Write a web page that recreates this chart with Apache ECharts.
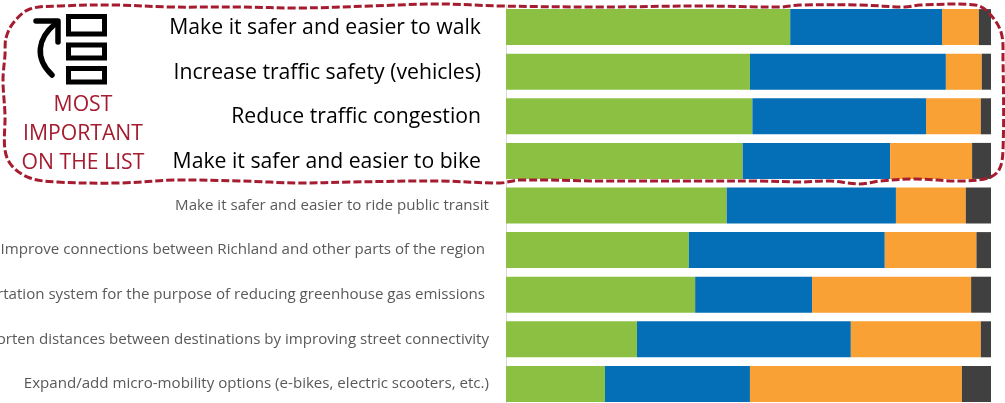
<!DOCTYPE html>
<html><head><meta charset="utf-8">
<style>html,body{margin:0;padding:0;background:#fff}#c{width:1005px;height:403px}</style>
<script src="https://cdn.jsdelivr.net/npm/echarts@6/dist/echarts.min.js"></script>
</head><body><div id="c"></div>
<script>
const categories = [
  "Make it safer and easier to walk",
  "Increase traffic safety (vehicles)",
  "Reduce traffic congestion",
  "Make it safer and easier to bike",
  "Make it safer and easier to ride public transit",
  "Improve connections between Richland and other parts of the region",
  "rtation system for the purpose of reducing greenhouse gas emissions",
  "orten distances between destinations by improving street connectivity",
  "Expand/add micro-mobility options (e-bikes, electric scooters, etc.)"
];
const green  = [58.6, 50.3, 50.8, 48.8, 45.5, 37.7, 39.0, 27.0, 20.4];
const blue   = [31.3, 40.4, 35.8, 30.4, 34.9, 40.4, 24.1, 44.1, 29.9];
const orange = [7.6, 7.4, 11.3, 16.9, 14.4, 18.9, 32.8, 26.8, 43.7];
const dark   = [2.5, 1.9, 2.1, 3.9, 5.2, 3.0, 4.1, 2.1, 6.0];
const seriesColors = ["#8cc043", "#046eb6", "#f9a134", "#404040"];
const noteLines = ["MOST", "IMPORTANT", "ON THE LIST"];

const outline = [[6,38],[14,22],[30,9],[60,6],[115,5],[170,7],[240,7],[300,8],[370,6],[440,4],[500,6],[600,7],[700,6],[780,7],[800,5],[860,5],[905,7],[920,5],[975,5],[988,12],[1001,32],[1003,60],[1003,150],[999,170],[988,178],[960,181],[915,179],[880,181],[860,184],[830,181],[800,182],[760,181],[700,181],[600,181],[520,180],[500,183],[440,181],[350,182],[300,183],[240,181],[175,180],[120,183],[57,182],[30,178],[12,166],[5,150],[5,115],[3,80],[5,55]];
const red = "#a51c30";
const box = (x,y,w,h)=>({type:'rect',z:20,shape:{x,y,width:w,height:h},style:{fill:'none',stroke:'#000',lineWidth:5}});

const chart = echarts.init(document.getElementById('c'), null, {renderer:'canvas'});
chart.setOption({
  animation:false,
  grid:{left:506,top:4.8,width:485,height:401.4,containLabel:false,outerBoundsMode:'none'},
  xAxis:{type:'value',min:0,max:100,show:false},
  yAxis:{type:'category',inverse:true,data:categories,
    axisTick:{show:false},axisLine:{show:true,lineStyle:{color:'#d9d9d9',width:1}},
    axisLabel:{margin:0,align:'right',interval:0,
      formatter:(v,i)=>{
        const k = i<4 ? 'a' : (i===5||i===6 ? 'c' : 'b');
        return '{'+k+'|'+v+'}';
      },
      rich:{
        a:{fontFamily:'Open Sans',fontSize:21.2,color:'#000',padding:[2,25,0,0]},
        b:{fontFamily:'Open Sans',fontSize:15.1,color:'#595959',padding:[0,17,0,0]},
        c:{fontFamily:'Open Sans',fontSize:15.1,color:'#595959',padding:[0,21,0,0]}
      }}},
  series:[green,blue,orange,dark].map((d,i)=>({type:'bar',stack:'s',data:d,barWidth:36,
    itemStyle:{color:seriesColors[i]},silent:true})),
  graphic:[
    {type:'polygon',z:30,shape:{points:outline,smooth:0.35},
     style:{fill:'none',stroke:red,lineWidth:3,lineDash:[8,3]}},
    box(68.5,16.5,36,17.5),box(68.5,45,36,13),box(68.5,68.5,36,13.5),
    {type:'polyline',z:20,shape:{points:[[36,21],[58,21],[58,42]]},style:{fill:'none',stroke:'#000',lineWidth:5.5,lineCap:'round',lineJoin:'round'}},
    {type:'bezierCurve',z:20,shape:{x1:55,y1:24,cpx1:38,cpy1:38,cpx2:34,cpy2:58,x2:52,y2:75},style:{fill:'none',stroke:'#000',lineWidth:5.5,lineCap:'round'}},
    ...noteLines.map((t,i)=>({type:'text',z:20,style:{x:83,y:105+i*29,text:t,align:'center',verticalAlign:'middle',
       fontFamily:'Open Sans',fontSize:21.2,fill:red}}))
  ]
});
</script></body></html>
